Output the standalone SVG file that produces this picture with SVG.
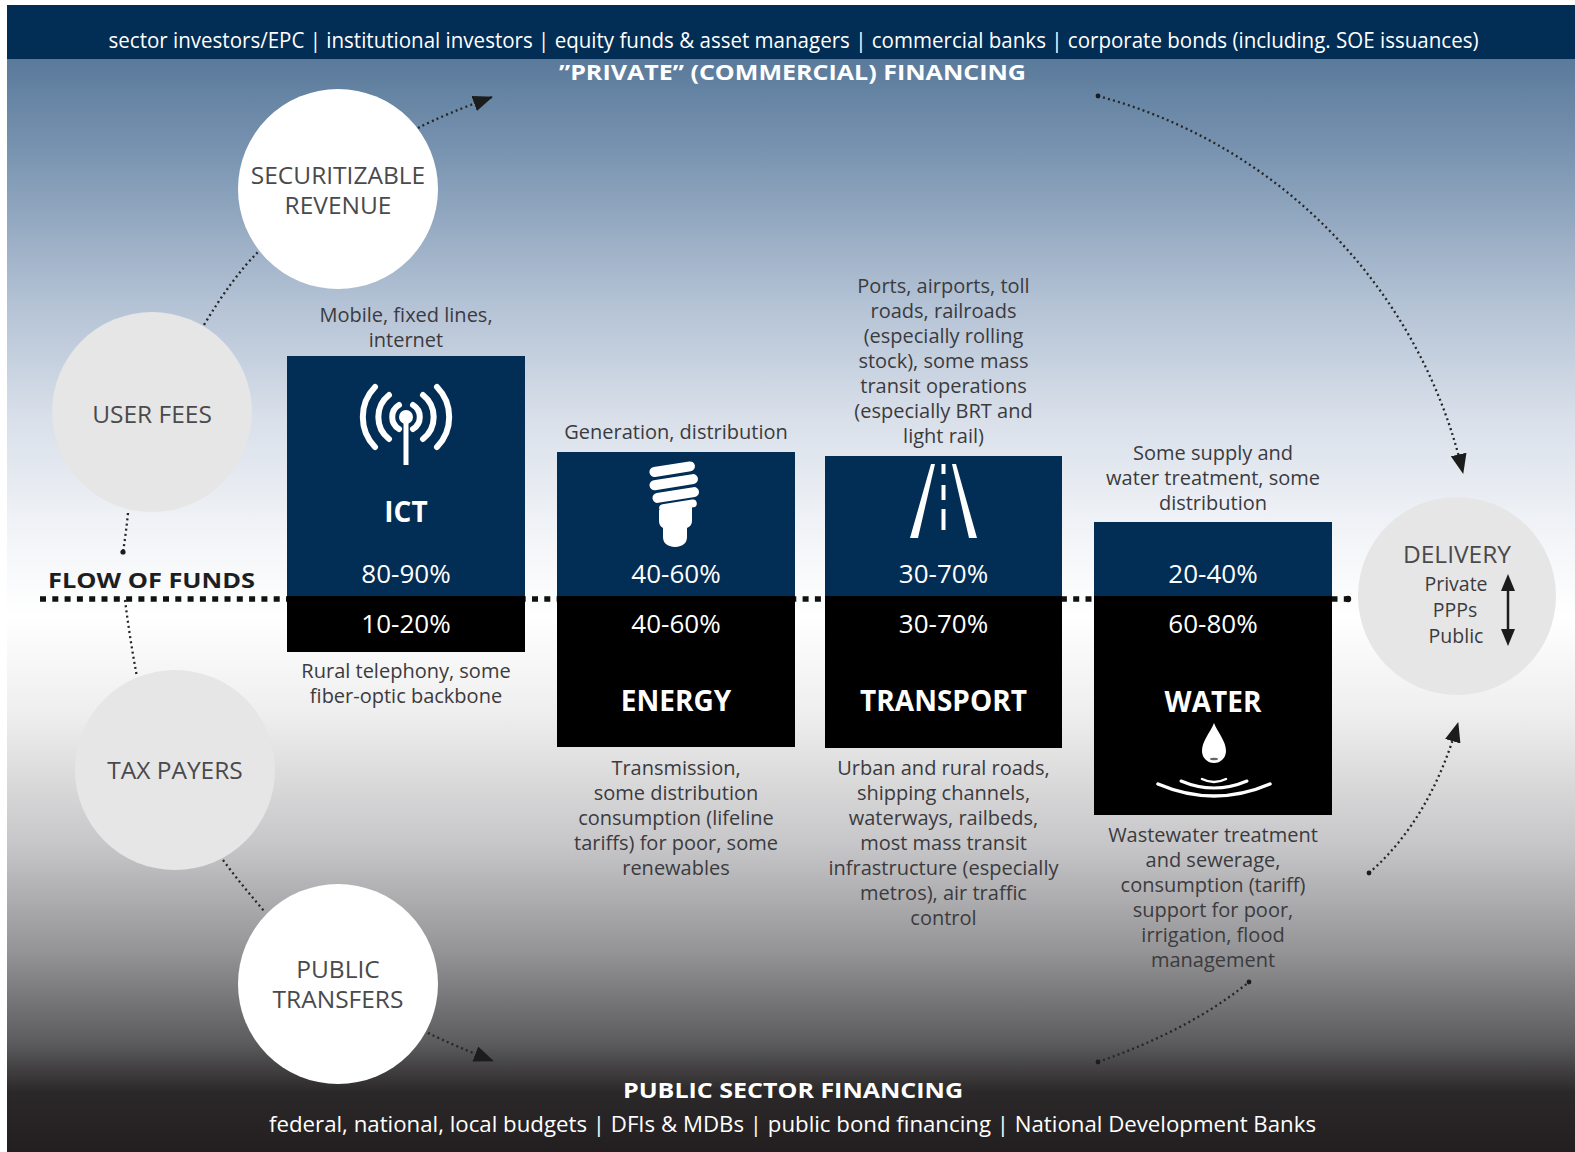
<svg xmlns="http://www.w3.org/2000/svg" width="1575" height="1152" viewBox="0 0 1575 1152">
<defs>
<linearGradient id="bg" gradientUnits="userSpaceOnUse" x1="0" y1="59" x2="0" y2="1152">
<stop offset="0" stop-color="#5a7a9b"/>
<stop offset="0.083" stop-color="#7893b0"/>
<stop offset="0.22" stop-color="#b2c1d4"/>
<stop offset="0.33" stop-color="#d9e0ea"/>
<stop offset="0.44" stop-color="#f3f5f8"/>
<stop offset="0.51" stop-color="#ffffff"/>
<stop offset="0.60" stop-color="#eeeeee"/>
<stop offset="0.72" stop-color="#c6c6c8"/>
<stop offset="0.815" stop-color="#959597"/>
<stop offset="0.9" stop-color="#5c5c5e"/>
<stop offset="0.945" stop-color="#2b2829"/>
<stop offset="1" stop-color="#231f20"/>
</linearGradient>
<marker id="ah" viewBox="0 0 20 16" refX="19" refY="8" markerWidth="20" markerHeight="16" orient="auto" markerUnits="userSpaceOnUse">
<path d="M0,0 L20,8 L0,16 z" fill="#1c1c1c"/>
</marker>
</defs>
<style>
text{font-family:"Open Sans","Liberation Sans",sans-serif}
.lbl{font-size:20px;fill:#3b3b3e;text-anchor:middle}
.cir{font-size:24.5px;fill:#4a4a4c;text-anchor:middle}
.sub{font-size:19.5px;fill:#3b3b3e;text-anchor:middle}
.pct{font-size:26px;fill:#ffffff;text-anchor:middle}
.ttl{font-size:28px;font-weight:700;fill:#ffffff;text-anchor:middle}
.ban{font-size:21px;fill:#ffffff}
.banb{font-size:21px;font-weight:700;fill:#ffffff}
.dl{fill:none;stroke:#262626;stroke-width:2.3;stroke-dasharray:2 3.2}
.navy{fill:#022d54}
.blk{fill:#000000}
.ws{fill:none;stroke:#ffffff;stroke-linecap:round}
</style>

<rect x="0" y="0" width="1575" height="1152" fill="#ffffff"/>
<rect x="7" y="59" width="1568" height="1093" fill="url(#bg)"/>

<g id="top-banner">
<rect x="7" y="5" width="1568" height="54" class="navy"/>
<text class="ban" x="108.5" y="48" textLength="1370" lengthAdjust="spacingAndGlyphs">sector investors/EPC | institutional investors | equity funds &amp; asset managers | commercial banks | corporate bonds (including. SOE issuances)</text>
<text class="banb" x="559" y="80" textLength="467" lengthAdjust="spacingAndGlyphs">”PRIVATE” (COMMERCIAL) FINANCING</text>
</g>

<g id="bottom-banner">
<text class="banb" x="623" y="1098" textLength="340" lengthAdjust="spacingAndGlyphs">PUBLIC SECTOR FINANCING</text>
<text class="ban" x="269" y="1132" font-size="22" textLength="1047" lengthAdjust="spacingAndGlyphs">federal, national, local budgets | DFIs &amp; MDBs | public bond financing | National Development Banks</text>
</g>

<g id="flow-of-funds">
<line x1="40" y1="599" x2="1350" y2="599" stroke="#111111" stroke-width="5.5" stroke-dasharray="6 6.3"/>
<circle cx="1348" cy="599" r="3.2" fill="#111111"/>
<text x="48" y="588" font-size="21" font-weight="700" fill="#1e1e22" textLength="207" lengthAdjust="spacingAndGlyphs">FLOW OF FUNDS</text>
</g>

<g id="connectors">
<path class="dl" d="M418,128 Q445,114 492,97" marker-end="url(#ah)"/>
<path class="dl" d="M204,325 Q232,278 258,252"/>
<path class="dl" d="M128,513 Q126,533 123,552"/>
<circle cx="123" cy="552" r="2.6" fill="#1c1c1c"/>
<path class="dl" d="M125,600 Q130,640 137,677"/>
<path class="dl" d="M223,860 Q243,887 265,912"/>
<path class="dl" d="M428,1033 Q455,1046 493,1061" marker-end="url(#ah)"/>
<path class="dl" d="M1098,96 A510,510 0 0 1 1463,473" marker-end="url(#ah)"/>
<circle cx="1098" cy="96" r="2.4" fill="#1c1c1c"/>
<path class="dl" d="M1369,873 Q1430,820 1458,723" marker-end="url(#ah)"/>
<circle cx="1369" cy="873" r="2.4" fill="#1c1c1c"/>
<path class="dl" d="M1098,1062 Q1190,1030 1249,982"/>
<circle cx="1098" cy="1062" r="2.4" fill="#1c1c1c"/>
<circle cx="1249" cy="982" r="2.4" fill="#1c1c1c"/>
</g>

<g id="securitizable-revenue">
<circle cx="338" cy="189" r="100" fill="#ffffff"/>
<text class="cir" x="338" y="184">SECURITIZABLE</text>
<text class="cir" x="338" y="214">REVENUE</text>
</g>

<g id="user-fees">
<circle cx="152" cy="412" r="100" fill="#e6e6e6"/>
<text class="cir" x="152" y="423">USER FEES</text>
</g>

<g id="tax-payers">
<circle cx="175" cy="770" r="100" fill="#e6e6e6"/>
<text class="cir" x="175" y="779">TAX PAYERS</text>
</g>

<g id="public-transfers">
<circle cx="338" cy="984" r="100" fill="#ffffff"/>
<text class="cir" x="338" y="978">PUBLIC</text>
<text class="cir" x="338" y="1008">TRANSFERS</text>
</g>

<g id="delivery">
<circle cx="1457" cy="596" r="99" fill="#e6e6e6"/>
<text class="cir" x="1457" y="563" font-size="24">DELIVERY</text>
<text class="sub" x="1456" y="591">Private</text>
<text class="sub" x="1455" y="617">PPPs</text>
<text class="sub" x="1456" y="643">Public</text>
<line x1="1508" y1="585" x2="1508" y2="635" stroke="#1c1c1c" stroke-width="2.5"/>
<path d="M1508,574 L1501,591 L1515,591 Z" fill="#1c1c1c"/>
<path d="M1508,646 L1501,629 L1515,629 Z" fill="#1c1c1c"/>
</g>

<g id="ict">
<text class="lbl" x="406" y="322">Mobile, fixed lines,</text>
<text class="lbl" x="406" y="347">internet</text>
<rect x="287" y="356" width="238" height="240" class="navy"/>
<rect x="287" y="596" width="238" height="56" class="blk"/>
<g stroke-width="6" class="ws">
<path d="M399,405 A14,14 0 0 0 399,429"/>
<path d="M413,405 A14,14 0 0 1 413,429"/>
<path d="M389,395 A28,28 0 0 0 389,439"/>
<path d="M423,395 A28,28 0 0 1 423,439"/>
<path d="M375,387 A43,43 0 0 0 375,447"/>
<path d="M437,387 A43,43 0 0 1 437,447"/>
</g>
<line x1="406" y1="420" x2="406" y2="465" stroke="#ffffff" stroke-width="5"/>
<circle cx="406" cy="417" r="7" fill="#ffffff"/>
<text class="ttl" x="406" y="522">ICT</text>
<text class="pct" x="406" y="583">80-90%</text>
<text class="pct" x="406" y="633">10-20%</text>
<text class="lbl" x="406" y="678">Rural telephony, some</text>
<text class="lbl" x="406" y="703">fiber-optic backbone</text>
</g>

<g id="energy">
<text class="lbl" x="676" y="439">Generation, distribution</text>
<rect x="557" y="452" width="238" height="144" class="navy"/>
<rect x="557" y="596" width="238" height="151" class="blk"/>
<g fill="#ffffff" transform="rotate(-9 675 487)">
<rect x="652" y="464" width="46" height="10" rx="5"/>
<rect x="650" y="477" width="49" height="10" rx="5"/>
<rect x="651" y="490" width="47" height="10" rx="5"/>
<rect x="656" y="502" width="38" height="8" rx="4"/>
</g>
<path d="M659,510 L692,507 L692,521 Q692,526 687,528 L687,537 Q687,546 675,547 Q663,546 663,537 L663,528 Q659,526 659,521 Z" fill="#ffffff"/>
<text class="pct" x="676" y="583">40-60%</text>
<text class="pct" x="676" y="633">40-60%</text>
<text class="ttl" x="676" y="711">ENERGY</text>
<text class="lbl" x="676" y="775">Transmission,</text>
<text class="lbl" x="676" y="800">some distribution</text>
<text class="lbl" x="676" y="825">consumption (lifeline</text>
<text class="lbl" x="676" y="850">tariffs) for poor, some</text>
<text class="lbl" x="676" y="875">renewables</text>
</g>

<g id="transport">
<text class="lbl" x="943.5" y="293">Ports, airports, toll</text>
<text class="lbl" x="943.5" y="318">roads, railroads</text>
<text class="lbl" x="943.5" y="343">(especially rolling</text>
<text class="lbl" x="943.5" y="368">stock), some mass</text>
<text class="lbl" x="943.5" y="393">transit operations</text>
<text class="lbl" x="943.5" y="418">(especially BRT and</text>
<text class="lbl" x="943.5" y="443">light rail)</text>
<rect x="825" y="456" width="237" height="140" class="navy"/>
<rect x="825" y="596" width="237" height="152" class="blk"/>
<polygon points="931,464 935,464 918,538 910,538" fill="#ffffff"/>
<polygon points="952,464 956,464 977,538 969,538" fill="#ffffff"/>
<rect x="941.5" y="464" width="4" height="10" fill="#ffffff"/>
<rect x="941.5" y="485" width="4" height="15" fill="#ffffff"/>
<rect x="941.5" y="509" width="4" height="21" fill="#ffffff"/>
<text class="pct" x="943.5" y="583">30-70%</text>
<text class="pct" x="943.5" y="633">30-70%</text>
<text class="ttl" x="943.5" y="711">TRANSPORT</text>
<text class="lbl" x="943.5" y="775">Urban and rural roads,</text>
<text class="lbl" x="943.5" y="800">shipping channels,</text>
<text class="lbl" x="943.5" y="825">waterways, railbeds,</text>
<text class="lbl" x="943.5" y="850">most mass transit</text>
<text class="lbl" x="943.5" y="875">infrastructure (especially</text>
<text class="lbl" x="943.5" y="900">metros), air traffic</text>
<text class="lbl" x="943.5" y="925">control</text>
</g>

<g id="water">
<text class="lbl" x="1213" y="460">Some supply and</text>
<text class="lbl" x="1213" y="485">water treatment, some</text>
<text class="lbl" x="1213" y="510">distribution</text>
<rect x="1094" y="522" width="238" height="74" class="navy"/>
<rect x="1094" y="596" width="238" height="219" class="blk"/>
<text class="pct" x="1213" y="583">20-40%</text>
<text class="pct" x="1213" y="633">60-80%</text>
<text class="ttl" x="1213" y="712">WATER</text>
<path d="M1214,723 C1210,733 1202,741 1202,751 A12,12 0 0 0 1226,751 C1226,741 1218,733 1214,723 Z" fill="#ffffff"/>
<ellipse cx="1214" cy="759" rx="4" ry="1.2" fill="#666666"/>
<path class="ws" stroke-width="3.5" d="M1158,784 Q1214,808 1270,784"/>
<path class="ws" stroke-width="3" d="M1181,781 Q1214,795 1247,781"/>
<path class="ws" stroke-width="2.5" d="M1202,779 Q1214,785 1226,779"/>
<text class="lbl" x="1213" y="842">Wastewater treatment</text>
<text class="lbl" x="1213" y="867">and sewerage,</text>
<text class="lbl" x="1213" y="892">consumption (tariff)</text>
<text class="lbl" x="1213" y="917">support for poor,</text>
<text class="lbl" x="1213" y="942">irrigation, flood</text>
<text class="lbl" x="1213" y="967">management</text>
</g>
</svg>
